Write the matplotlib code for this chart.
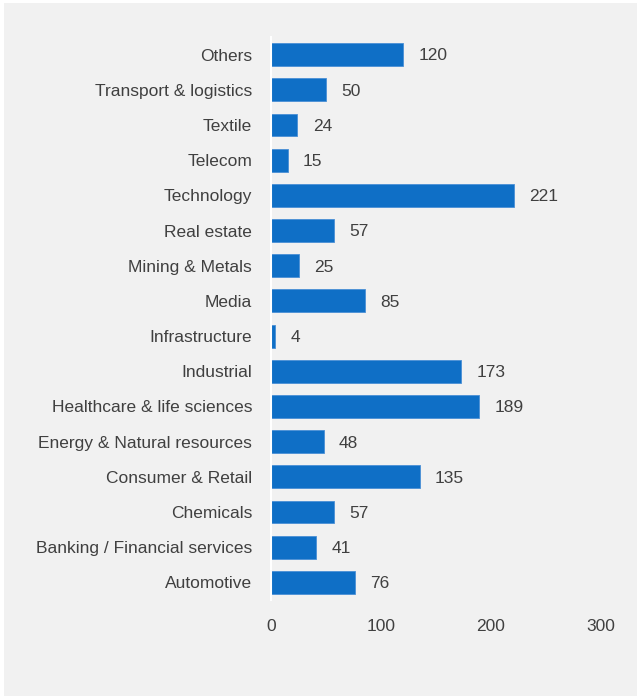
import matplotlib.pyplot as plt
from matplotlib.patches import Rectangle

categories = [
    "Automotive", "Banking / Financial services", "Chemicals", "Consumer & Retail",
    "Energy & Natural resources", "Healthcare & life sciences", "Industrial",
    "Infrastructure", "Media", "Mining & Metals", "Real estate", "Technology",
    "Telecom", "Textile", "Transport & logistics", "Others",
]
counts = [76, 41, 57, 135, 48, 189, 173, 4, 85, 25, 57, 221, 15, 24, 50, 120]
x_ticks = [0, 100, 200, 300]

bg = "#f1f1f1"
bar_color = "#0f6fc6"
text_color = "#404040"
fsize = 12.5

plt.rcParams['font.family'] = ['Liberation Sans', 'DejaVu Sans']

fig = plt.figure(figsize=(6.37, 6.96), dpi=100, facecolor="white")
# grey panel with a thin white margin on the top and left
fig.patches.append(Rectangle((4 / 637, 0), 1, 1 - 3 / 696, transform=fig.transFigure,
                             facecolor=bg, edgecolor="none", zorder=-1))

ax = fig.add_axes([271 / 637, 1 - 600 / 696, 330 / 637, 563 / 696])
ax.set_facecolor(bg)

y = list(range(len(categories)))
ax.barh(y, counts, height=0.65, color=bar_color, edgecolor="#4a8fd6", linewidth=0.6)

for yi, v in zip(y, counts):
    ax.annotate(str(v), xy=(v, yi), xytext=(11, -1), textcoords="offset points",
                va="center", ha="left", fontsize=fsize, color=text_color)

ax.set_xlim(0, 300)
ax.set_ylim(-0.5, len(categories) - 0.5)
ax.set_xticks(x_ticks)
ax.set_yticks(y)
ax.set_yticklabels(categories)
ax.tick_params(axis="y", length=0, pad=13.5, labelsize=fsize, labelcolor=text_color)
ax.tick_params(axis="x", length=0, pad=14, labelsize=fsize, labelcolor=text_color)

for side in ["top", "right", "bottom"]:
    ax.spines[side].set_visible(False)
ax.spines["left"].set_color("white")
ax.spines["left"].set_linewidth(1.5)

fig.savefig("out.png", dpi=100, facecolor=fig.get_facecolor())
